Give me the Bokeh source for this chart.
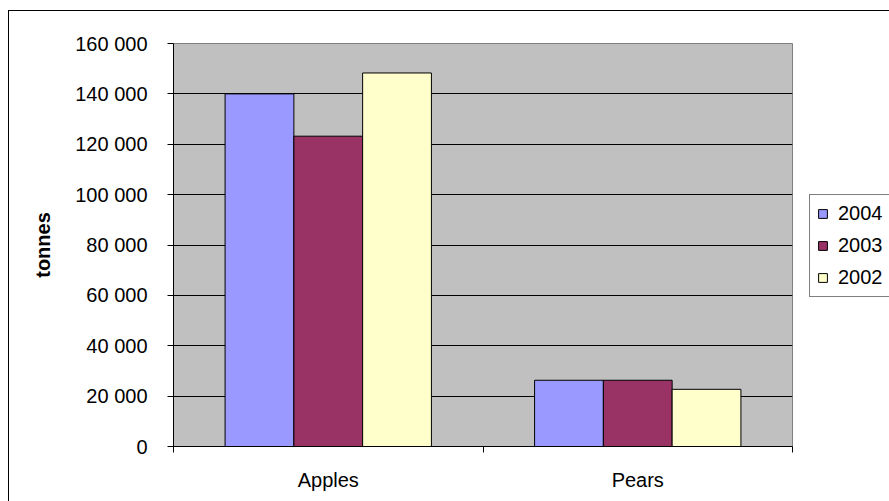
from bokeh.plotting import figure
from bokeh.models import (ColumnDataSource, Range1d, FixedTicker, Legend, LegendItem)
from bokeh.transform import dodge
from bokeh.embed import file_html
from bokeh.resources import INLINE

# ---- data ----
categories = ["Apples", "Pears"]
years = ["2004", "2003", "2002"]
values_2004 = [140000, 26300]
values_2003 = [123200, 26300]
values_2002 = [148300, 22700]
colors = ["#9999FF", "#993366", "#FFFFCC"]
y_ticks = [0, 20000, 40000, 60000, 80000, 100000, 120000, 140000, 160000]

FONT = "Liberation Sans"

src = ColumnDataSource(data=dict(
    x=[i + 0.5 for i in range(len(categories))],
    v2004=values_2004, v2003=values_2003, v2002=values_2002,
))

p = figure(frame_width=619, frame_height=403, output_backend="svg", toolbar_location=None,
           x_range=Range1d(0, len(categories)), y_range=Range1d(0, y_ticks[-1]),
           min_border_left=164, min_border_right=97, min_border_top=32,
           min_border_bottom=55,
           margin=(11, 0, 0, 9),
           styles={"outline": "1px solid black"})

p.background_fill_color = "#C0C0C0"
p.border_fill_color = "white"
p.outline_line_color = "#808080"
p.outline_line_width = 1

bw = 1.0 / 4.5
offsets = [-bw, 0.0, bw]
renderers = []
for yr, col, off in zip(years, colors, offsets):
    r = p.vbar(x=dodge("x", off, range=p.x_range), top="v" + yr, width=bw, bottom=0,
               source=src, fill_color=col, line_color="black", line_width=1)
    renderers.append((yr, r))

# grid
p.xgrid.visible = False
p.ygrid.ticker = FixedTicker(ticks=y_ticks)
p.ygrid.grid_line_color = "black"
p.ygrid.grid_line_width = 1

# y axis
ya = p.yaxis[0]
ya.ticker = FixedTicker(ticks=y_ticks)
ya.major_label_overrides = {t: f"{t:,}".replace(",", " ") for t in y_ticks}
ya.major_label_text_font = FONT
ya.major_label_text_font_size = "20px"
ya.major_label_text_color = "black"
ya.major_label_standoff = 20
ya.major_tick_out = 6
ya.major_tick_in = 0
ya.minor_tick_out = 0
ya.minor_tick_in = 0
ya.axis_line_color = "black"
ya.major_tick_line_color = "black"
ya.axis_label = "tonnes"
ya.axis_label_text_font = FONT
ya.axis_label_text_font_size = "20px"
ya.axis_label_text_font_style = "bold"
ya.axis_label_text_color = "black"
ya.axis_label_standoff = 18

# x axis: labels at category centres, tick marks at category boundaries
centres = [i + 0.5 for i in range(len(categories))]
xa = p.xaxis[0]
xa.ticker = FixedTicker(ticks=centres, minor_ticks=list(range(len(categories) + 1)))
xa.major_label_overrides = {c: name for c, name in zip(centres, categories)}
xa.major_label_text_font = FONT
xa.major_label_text_font_size = "20px"
xa.major_label_text_color = "black"
xa.major_label_standoff = 16
xa.major_tick_out = 0
xa.major_tick_in = 0
xa.minor_tick_out = 6
xa.minor_tick_in = 0
xa.axis_line_color = "black"
xa.minor_tick_line_color = "black"

legend = Legend(items=[LegendItem(label=yr, renderers=[r]) for yr, r in renderers],
                location=(17, 149))
legend.margin = 0
legend.label_text_font = FONT
legend.label_text_font_size = "20px"
legend.label_text_color = "black"
legend.glyph_width = 11
legend.glyph_height = 11
legend.label_height = 22
legend.label_standoff = 10
legend.spacing = 9
legend.padding = 7
legend.border_line_color = "black"
legend.border_line_width = 1
legend.background_fill_color = "white"
legend.background_fill_alpha = 1
p.add_layout(legend, "right")

open("out.html", "w").write(file_html(p, INLINE))
